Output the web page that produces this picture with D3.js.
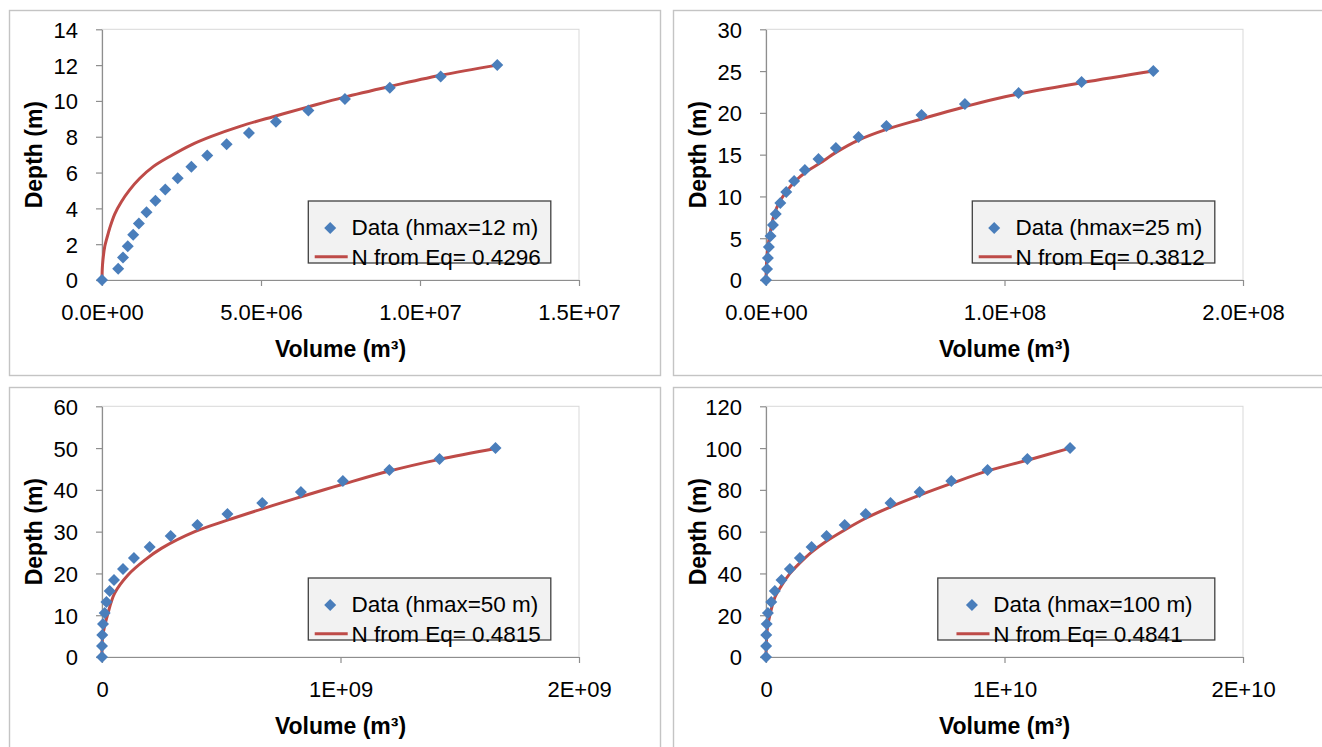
<!DOCTYPE html>
<html>
<head>
<meta charset="utf-8">
<script src="https://cdn.jsdelivr.net/npm/d3@7"></script>
<style>
  html, body { margin: 0; padding: 0; background: #fff; overflow: hidden; }
  svg { display: block; }
  text { font-family: "Liberation Sans", Arial, sans-serif; fill: #000; }
</style>
</head>
<body>
<svg id="chart" width="1322" height="747"></svg>
<script>
// ---- Legend texts ----
const dataNames = ["Data (hmax=12 m)", "Data (hmax=25 m)", "Data (hmax=50 m)", "Data (hmax=100 m)"];
const fitNames  = ["N from Eq= 0.4296", "N from Eq= 0.3812", "N from Eq= 0.4815", "N from Eq= 0.4841"];
const xTitle = "Volume (m³)";
const yTitle = "Depth (m)";

// ---- Measured reservoir points (volume in m3, depth in m) ----
const depth12  = [0, 0.63, 1.26, 1.89, 2.53, 3.16, 3.79, 4.42, 5.05, 5.68, 6.32, 6.95, 7.58, 8.21, 8.84, 9.47, 10.11, 10.74, 11.37, 12.00];
const volume12 = [0, 0.51e6, 0.66e6, 0.81e6, 0.98e6, 1.16e6, 1.40e6, 1.68e6, 1.99e6, 2.38e6, 2.81e6, 3.31e6, 3.92e6, 4.62e6, 5.47e6, 6.49e6, 7.64e6, 9.05e6, 10.65e6, 12.43e6];

const depth25  = [0, 1.32, 2.63, 3.95, 5.26, 6.58, 7.89, 9.21, 10.53, 11.84, 13.16, 14.47, 15.79, 17.11, 18.42, 19.74, 21.05, 22.37, 23.68, 25.00];
const volume25 = [0, 0.45e6, 0.8e6, 1.2e6, 1.9e6, 2.9e6, 4.1e6, 6.0e6, 8.5e6, 11.8e6, 16.3e6, 22.0e6, 29.3e6, 38.8e6, 50.5e6, 65.2e6, 83.4e6, 105.9e6, 132.3e6, 162.4e6];

const depth50  = [0, 2.63, 5.26, 7.89, 10.53, 13.16, 15.79, 18.42, 21.05, 23.68, 26.32, 28.95, 31.58, 34.21, 36.84, 39.47, 42.11, 44.74, 47.37, 50.00];
const volume50 = [0, 0, 1e6, 4.2e6, 11.3e6, 18.5e6, 32.3e6, 50.4e6, 88e6, 134e6, 200e6, 288e6, 400e6, 526e6, 672e6, 834e6, 1010e6, 1205e6, 1415e6, 1650e6];

const depth100  = [0, 5.26, 10.53, 15.79, 21.05, 26.32, 31.58, 36.84, 42.11, 47.37, 52.63, 57.89, 63.16, 68.42, 73.68, 78.95, 84.21, 89.47, 94.74, 100.00];
const volume100 = [0, 0.005e9, 0.01e9, 0.03e9, 0.08e9, 0.22e9, 0.37e9, 0.65e9, 1.0e9, 1.42e9, 1.91e9, 2.54e9, 3.30e9, 4.18e9, 5.22e9, 6.44e9, 7.77e9, 9.29e9, 10.96e9, 12.75e9];

// ---- Fitted depth-volume curves ----
const fitVolume12 = [0, 0.008e6, 0.03e6, 0.085e6, 0.14e6, 0.19e6, 0.24e6, 0.40e6, 0.61e6, 0.87e6, 1.19e6, 1.61e6, 2.13e6, 2.81e6, 3.44e6, 4.34e6, 5.38e6, 6.43e6, 7.59e6, 9.05e6, 10.65e6, 12.44e6];
const fitDepth12  = [0, 0.6, 1.12, 1.86, 2.25, 2.57, 2.88, 3.68, 4.37, 5.03, 5.68, 6.33, 6.90, 7.55, 8.02, 8.58, 9.12, 9.64, 10.20, 10.81, 11.43, 12.0];

const fitVolume25 = [0, 0.38e6, 1.22e6, 2.23e6, 3.61e6, 5.71e6, 8.53e6, 12.0e6, 16.9e6, 22.5e6, 29.5e6, 38.8e6, 50.5e6, 65.2e6, 83.4e6, 100.2e6, 132.3e6, 162.4e6];
const fitDepth25  = [0, 2.79, 4.79, 6.38, 7.98, 9.37, 10.57, 11.76, 12.96, 13.96, 15.3, 16.75, 18.03, 19.27, 20.74, 21.93, 23.6, 25.0];

const fitVolume50 = [0, 3e6, 25.2e6, 53.3e6, 109e6, 179e6, 249e6, 389e6, 529e6, 669e6, 809e6, 935e6, 1010e6, 1205e6, 1415e6, 1650e6];
const fitDepth50  = [0, 5, 10.5, 15.3, 19.65, 23.2, 26.0, 30.0, 32.8, 35.4, 37.9, 40.1, 41.35, 44.5, 47.3, 49.9];

const fitVolume100 = [0, 0.02e9, 0.06e9, 0.151e9, 0.36e9, 0.64e9, 0.99e9, 1.41e9, 1.90e9, 2.53e9, 3.30e9, 4.18e9, 5.23e9, 6.45e9, 7.78e9, 9.29e9, 10.96e9, 12.75e9];
const fitDepth100  = [0, 8, 14, 19.4, 28.2, 34.0, 39.8, 44.9, 50.1, 55.4, 60.8, 66.4, 71.9, 77.5, 83.1, 89.1, 94.2, 100];

// ---- Axis ticks ----
const xTicks12 = [0, 5e6, 1e7, 1.5e7];
const xTickLabels12 = ["0.0E+00", "5.0E+06", "1.0E+07", "1.5E+07"];
const xTicks25 = [0, 1e8, 2e8];
const xTickLabels25 = ["0.0E+00", "1.0E+08", "2.0E+08"];
const xTicks50 = [0, 1e9, 2e9];
const xTickLabels50 = ["0", "1E+09", "2E+09"];
const xTicks100 = [0, 1e10, 2e10];
const xTickLabels100 = ["0", "1E+10", "2E+10"];

const yTicks12  = [0, 2, 4, 6, 8, 10, 12, 14];
const yTicks25  = [0, 5, 10, 15, 20, 25, 30];
const yTicks50  = [0, 10, 20, 30, 40, 50, 60];
const yTicks100 = [0, 20, 40, 60, 80, 100, 120];

// ---- Assemble panels ----
const panels = [
  { vol: volume12,  dep: depth12,  fitV: fitVolume12,  fitD: fitDepth12,  xT: xTicks12,  xL: xTickLabels12,  yT: yTicks12,  dataName: dataNames[0], fitName: fitNames[0] },
  { vol: volume25,  dep: depth25,  fitV: fitVolume25,  fitD: fitDepth25,  xT: xTicks25,  xL: xTickLabels25,  yT: yTicks25,  dataName: dataNames[1], fitName: fitNames[1] },
  { vol: volume50,  dep: depth50,  fitV: fitVolume50,  fitD: fitDepth50,  xT: xTicks50,  xL: xTickLabels50,  yT: yTicks50,  dataName: dataNames[2], fitName: fitNames[2] },
  { vol: volume100, dep: depth100, fitV: fitVolume100, fitD: fitDepth100, xT: xTicks100, xL: xTickLabels100, yT: yTicks100, dataName: dataNames[3], fitName: fitNames[3] }
];

// Frame placement of the four charts and their legends
const frames = [
  { x: 9,   y: 10,  legX: 299.3, legW: 242.5 },
  { x: 673, y: 10,  legX: 299.3, legW: 242.5 },
  { x: 9,   y: 387, legX: 299.3, legW: 242.5 },
  { x: 673, y: 387, legX: 264.8, legW: 277 }
];

const FRAME_W = 651, FRAME_H = 365;
const PLOT = { left: 93, right: 570, top: 19.3, bottom: 270 };

const BLUE = "#4A7EBB";
const RED = "#BE4B48";
const AXIS = "#8E8E8E";
const TICK_FONT = 22;
const LEGEND_FONT = 22.5;
const TITLE_FONT = 23;
const MARK_R = 6;

const svg = d3.select("#chart");

function diamond(r) {
  return `M0,${-r}L${r},0L0,${r}L${-r},0Z`;
}

panels.forEach((p, i) => {
  const f = frames[i];
  const g = svg.append("g").attr("transform", `translate(${f.x},${f.y})`);

  // chart frame
  g.append("rect")
    .attr("x", 0.5).attr("y", 0.5)
    .attr("width", FRAME_W).attr("height", FRAME_H)
    .attr("fill", "#fff")
    .attr("stroke", "#C4C4C4")
    .attr("stroke-width", 1.4);

  const x = d3.scaleLinear().domain([p.xT[0], p.xT[p.xT.length - 1]]).range([PLOT.left, PLOT.right]);
  const y = d3.scaleLinear().domain([p.yT[0], p.yT[p.yT.length - 1]]).range([PLOT.bottom, PLOT.top]);

  // plot-area outline
  g.append("rect")
    .attr("x", PLOT.left).attr("y", PLOT.top)
    .attr("width", PLOT.right - PLOT.left).attr("height", PLOT.bottom - PLOT.top)
    .attr("fill", "none")
    .attr("stroke", "#D9D9D9")
    .attr("stroke-width", 1);

  // axes
  const xAxis = d3.axisBottom(x)
    .tickValues(p.xT)
    .tickFormat((d, k) => p.xL[k])
    .tickSizeInner(6).tickSizeOuter(0).tickPadding(18.5);
  const yAxis = d3.axisLeft(y)
    .tickValues(p.yT)
    .tickFormat(d => d)
    .tickSizeInner(6).tickSizeOuter(0).tickPadding(18);

  const gx = g.append("g").attr("transform", `translate(0,${PLOT.bottom})`).call(xAxis);
  const gy = g.append("g").attr("transform", `translate(${PLOT.left},0)`).call(yAxis);
  [gx, gy].forEach(ax => {
    ax.select(".domain").attr("stroke", AXIS).attr("stroke-width", 1.2);
    ax.selectAll(".tick line").attr("stroke", AXIS).attr("stroke-width", 1.2);
    ax.selectAll(".tick text")
      .attr("font-family", "Liberation Sans, Arial, sans-serif")
      .attr("font-size", TICK_FONT)
      .attr("fill", "#000");
  });
  gy.selectAll(".tick text").attr("dy", "0.36em");

  // axis titles
  g.append("text")
    .attr("x", (PLOT.left + PLOT.right) / 2)
    .attr("y", 347)
    .attr("text-anchor", "middle")
    .attr("font-size", TITLE_FONT)
    .attr("font-weight", "bold")
    .text(xTitle);
  g.append("text")
    .attr("transform", `translate(33,${(PLOT.top + PLOT.bottom) / 2}) rotate(-90)`)
    .attr("text-anchor", "middle")
    .attr("font-size", TITLE_FONT)
    .attr("font-weight", "bold")
    .text(yTitle);

  // fitted curve
  const line = d3.line()
    .x(d => x(d[0]))
    .y(d => y(d[1]))
    .curve(d3.curveCatmullRom.alpha(0.5));
  g.append("path")
    .datum(d3.zip(p.fitV, p.fitD))
    .attr("d", line)
    .attr("fill", "none")
    .attr("stroke", RED)
    .attr("stroke-width", 3)
    .attr("stroke-linecap", "round")
    .attr("stroke-linejoin", "round");

  // measured points
  g.append("g").selectAll("path")
    .data(d3.zip(p.vol, p.dep))
    .join("path")
    .attr("transform", d => `translate(${x(d[0])},${y(d[1])})`)
    .attr("d", diamond(MARK_R))
    .attr("fill", BLUE);

  // legend
  const lg = g.append("g").attr("transform", `translate(${f.legX},191)`);
  lg.append("rect")
    .attr("x", 0).attr("y", 0)
    .attr("width", f.legW).attr("height", 62)
    .attr("fill", "#F2F2F2")
    .attr("stroke", "#404040")
    .attr("stroke-width", 1.3);
  const t1 = lg.append("text").attr("font-size", LEGEND_FONT).attr("y", 34).text(p.dataName);
  const t2 = lg.append("text").attr("font-size", LEGEND_FONT).attr("y", 63.5).text(p.fitName);
  const tw = Math.max(t1.node().getComputedTextLength(), t2.node().getComputedTextLength());
  const contentW = 36.7 + tw;
  const c = (f.legW - contentW) / 2 - 1.75;
  t1.attr("x", c + 36.7);
  t2.attr("x", c + 36.7);
  lg.append("line")
    .attr("x1", c).attr("x2", c + 33)
    .attr("y1", 55.7).attr("y2", 55.7)
    .attr("stroke", RED).attr("stroke-width", 3);
  lg.append("path")
    .attr("transform", `translate(${c + 15.5},27)`)
    .attr("d", diamond(MARK_R))
    .attr("fill", BLUE);
});
</script>
</body>
</html>
